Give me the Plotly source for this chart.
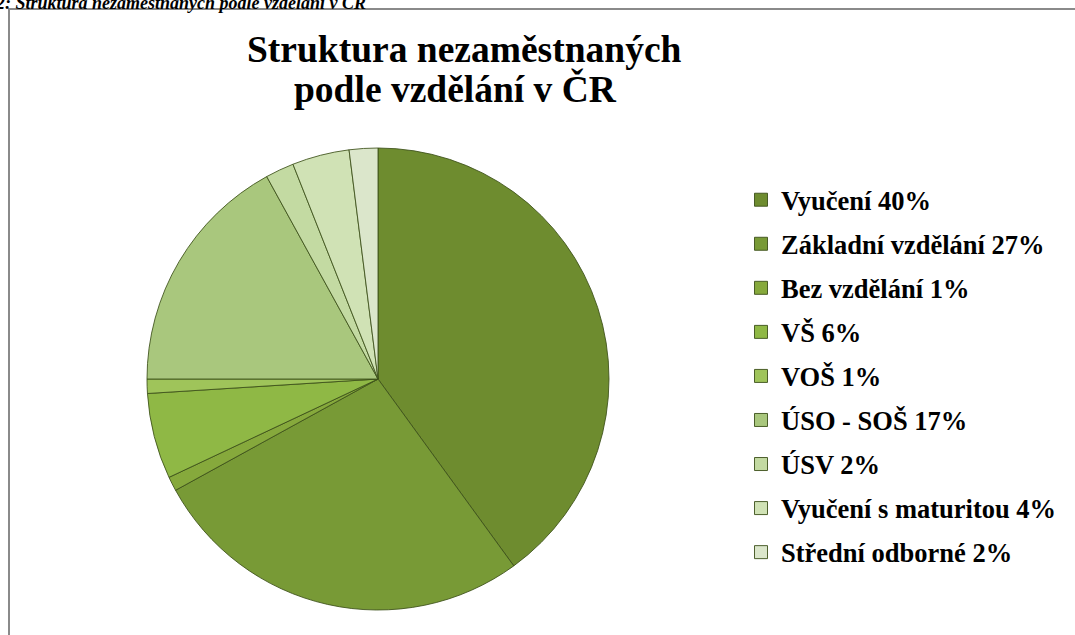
import plotly.graph_objects as go

labels = ["Vyučení", "Základní vzdělání", "Bez vzdělání", "VŠ", "VOŠ",
          "ÚSO - SOŠ", "ÚSV", "Vyučení s maturitou", "Střední odborné"]
values = [40, 27, 1, 6, 1, 17, 2, 4, 2]
colors = ["#6e8c2f", "#789a36", "#86a93c", "#8fb845", "#9fc45a",
          "#a9c77d", "#c3daa2", "#d0e2b5", "#dbe6cb"]

title_line1 = "Struktura nezaměstnaných"
title_line2 = "podle vzdělání v ČR"
caption = "Obr. 2: Struktura nezaměstnaných podle vzdělání v ČR"

W, H = 1075, 635
SERIF = "Liberation Serif"

fig = go.Figure()
fig.add_trace(go.Pie(
    labels=labels, values=values, sort=False, direction="clockwise",
    rotation=0, textinfo="none", hoverinfo="label+percent",
    marker=dict(colors=colors, line=dict(color="rgba(60,80,25,0.85)", width=1)),
    showlegend=False,
    domain=dict(x=[147 / W, 609 / W], y=[(H - 610) / H, (H - 148) / H]),
))

for lab, val, col in zip(labels, values, colors):
    fig.add_trace(go.Scatter(
        x=[None], y=[None], mode="markers", name=f"{lab} {val}%",
        legendgroup=lab,
        marker=dict(symbol="square", size=13, color=col,
                    line=dict(color="rgba(60,80,25,0.9)", width=1)),
    ))

fig.update_layout(
    width=W, height=H,
    margin=dict(l=0, r=0, t=0, b=0),
    paper_bgcolor="white", plot_bgcolor="white",
    xaxis=dict(visible=False), yaxis=dict(visible=False),
    legend=dict(
        x=741 / W, xanchor="left", y=1 - 176 / H, yanchor="top",
        font=dict(family=SERIF, size=26.5, color="black", weight="bold"),
        tracegroupgap=6.6, bgcolor="rgba(0,0,0,0)",
    ),
    annotations=[
        dict(text=title_line1, x=464 / W, y=1 - 49 / H, xref="paper", yref="paper",
             xanchor="center", yanchor="middle", showarrow=False,
             font=dict(family=SERIF, size=37.5, color="black", weight="bold")),
        dict(text=title_line2, x=455 / W, y=1 - 89 / H, xref="paper", yref="paper",
             xanchor="center", yanchor="middle", showarrow=False,
             font=dict(family=SERIF, size=37.5, color="black", weight="bold")),
        dict(text=f"<i>{caption}</i>", x=368 / W, y=1 - 15 / H, xref="paper", yref="paper",
             xanchor="right", yanchor="bottom", showarrow=False,
             font=dict(family=SERIF, size=18, color="black", weight="bold")),
    ],
    shapes=[dict(type="rect", xref="paper", yref="paper",
                 x0=9 / W, x1=1.01, y0=-0.01, y1=1 - 9 / H,
                 line=dict(color="#8a8a8a", width=2), fillcolor="rgba(0,0,0,0)")],
)

fig.write_html("out.html", config={"displayModeBar": False},
               post_script="document.body.style.margin='0';document.body.style.overflow='hidden';")
